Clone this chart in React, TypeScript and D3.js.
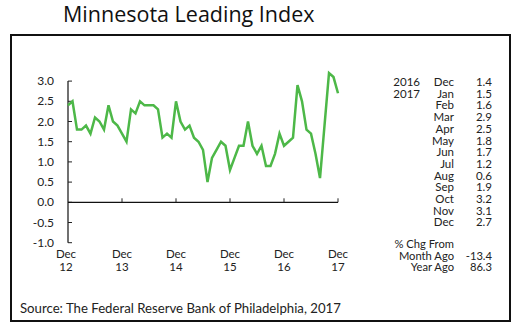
import React from "react";
import * as d3 from "d3";

const values: number[] = [
  2.4, 2.5, 1.8, 1.8, 1.9, 1.7, 2.1, 2.0, 1.8, 2.4, 2.0, 1.9,
  1.7, 1.5, 2.3, 2.2, 2.5, 2.4, 2.4, 2.4, 2.3, 1.6, 1.7, 1.6,
  2.5, 2.0, 1.8, 1.9, 1.6, 1.5, 1.3, 0.5, 1.1, 1.3, 1.5, 1.4,
  0.8, 1.1, 1.4, 1.4, 2.0, 1.4, 1.2, 1.4, 0.9, 0.9, 1.2, 1.7,
  1.4, 1.5, 1.6, 2.9, 2.5, 1.8, 1.7, 1.2, 0.6, 1.9, 3.2, 3.1,
  2.7,
];
const yTicks: number[] = [-1, -0.5, 0, 0.5, 1, 1.5, 2, 2.5, 3];
const xTickMonths: number[] = [0, 12, 24, 36, 48, 60];
const xTickYears: string[] = ["12", "13", "14", "15", "16", "17"];
const tableYears: string[] = ["2016", "2017"];
const tableMonths: string[] = ["Dec", "Jan", "Feb", "Mar", "Apr", "May", "Jun", "Jul", "Aug", "Sep", "Oct", "Nov", "Dec"];
const tableValues: string[] = ["1.4", "1.5", "1.6", "2.9", "2.5", "1.8", "1.7", "1.2", "0.6", "1.9", "3.2", "3.1", "2.7"];
const chgLabels: string[] = ["Month Ago", "Year Ago"];
const chgValues: string[] = ["-13.4", "86.3"];

const FONT = "Lato, 'Open Sans', sans-serif";

export default function App() {
  const x = d3.scaleLinear().domain([0, 60]).range([68, 338]);
  const y = d3.scaleLinear().domain([-1, 3]).range([242.7, 81.1]);
  const line = d3
    .line<number>()
    .x((_, i) => x(i))
    .y((d) => y(d));

  const rowH = 11.7;

  return (
    <svg
      width={523}
      height={323}
      style={{ position: "absolute", left: 0, top: 0, background: "#fff" }}
      fontFamily={FONT}
    >
      <rect x={0} y={0} width={523} height={323} fill="#fff" />
      <text x={63} y={22} fontSize={21.5} fill="#111" fontFamily="'Open Sans', sans-serif">
        Minnesota Leading Index
      </text>
      <rect x={11} y={35} width={499} height={286} fill="none" stroke="#111" strokeWidth={2} />

      {/* y axis */}
      <line x1={x(0)} x2={x(0)} y1={y(3)} y2={y(-1)} stroke="#111" strokeWidth={1.2} />
      {yTicks.map((t) => (
        <g key={t}>
          <line x1={x(0)} x2={x(0) + 4} y1={y(t)} y2={y(t)} stroke="#222" strokeWidth={1} />
          <text x={54} y={y(t) + 4} fontSize={12} textAnchor="end" fill="#222">
            {t.toFixed(1)}
          </text>
        </g>
      ))}

      {/* zero line */}
      <line x1={x(0)} x2={x(60)} y1={y(0)} y2={y(0)} stroke="#111" strokeWidth={1.2} />
      {xTickMonths.map((m, i) => (
        <g key={m}>
          {i > 0 && (
            <line x1={x(m)} x2={x(m)} y1={y(0)} y2={y(0) - 4} stroke="#222" strokeWidth={1} />
          )}
          <text x={x(m) - (i === 0 ? 2 : 0)} y={258} fontSize={11.5} textAnchor="middle" fill="#222">
            Dec
          </text>
          <text x={x(m) - (i === 0 ? 2 : 0)} y={270.5} fontSize={11.5} textAnchor="middle" fill="#222">
            {xTickYears[i]}
          </text>
        </g>
      ))}

      <path d={line(values) || ""} fill="none" stroke="#4DB848" strokeWidth={2.5} strokeLinejoin="miter" />

      {/* table */}
      {tableYears.map((yr, i) => (
        <text key={yr} x={420} y={86 + i * rowH} fontSize={11.5} textAnchor="end" fill="#222">
          {yr}
        </text>
      ))}
      {tableMonths.map((m, i) => (
        <g key={i}>
          <text x={454} y={86 + i * rowH} fontSize={11.5} textAnchor="end" fill="#222">
            {m}
          </text>
          <text x={492} y={86 + i * rowH} fontSize={11.5} textAnchor="end" fill="#222">
            {tableValues[i]}
          </text>
        </g>
      ))}
      <text x={454} y={247.5} fontSize={11.2} textAnchor="end" fill="#222">
        % Chg From
      </text>
      {chgLabels.map((l, i) => (
        <g key={l}>
          <text x={454} y={259.5 + i * 11.3} fontSize={11.2} textAnchor="end" fill="#222">
            {l}
          </text>
          <text x={492} y={259.5 + i * 11.3} fontSize={11.2} textAnchor="end" fill="#222">
            {chgValues[i]}
          </text>
        </g>
      ))}

      <text x={20} y={313} fontSize={13.2} fill="#222">
        Source: The Federal Reserve Bank of Philadelphia, 2017
      </text>
    </svg>
  );
}
